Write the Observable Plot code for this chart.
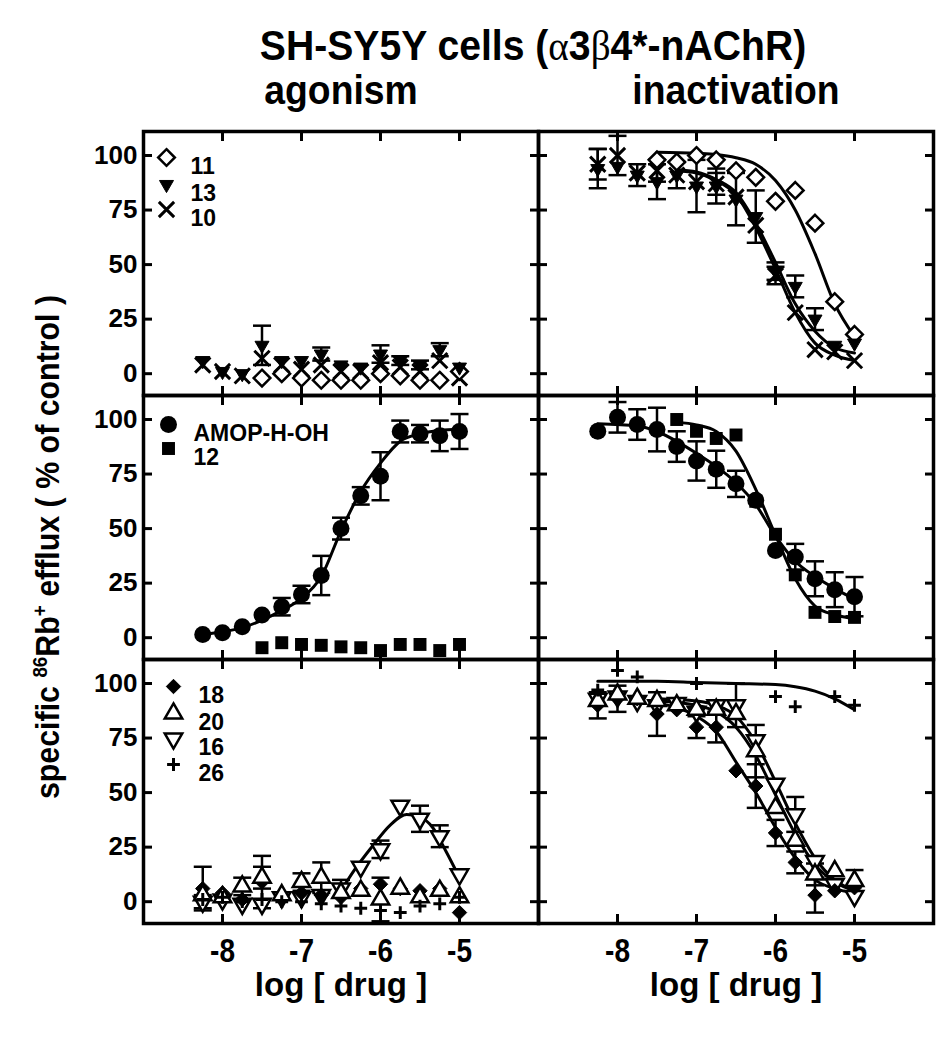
<!DOCTYPE html>
<html><head><meta charset="utf-8">
<script src="https://cdn.jsdelivr.net/npm/d3@7"></script>
<script src="https://cdn.jsdelivr.net/npm/@observablehq/plot@0.6"></script>
<style>
body{margin:0;background:#fff;}
#wrap{position:relative;width:946px;height:1050px;overflow:hidden;background:#fff;}
#title{position:relative;height:70px;}
#title .t{position:absolute;left:533px;top:28px;transform:translateX(-50%) scaleX(0.91);white-space:nowrap;font:bold 43px "Liberation Sans",Arial,sans-serif;line-height:34px;color:#000;}
#title .g{font-family:"Liberation Serif","DejaVu Serif",serif;font-weight:normal;}
#ylab{position:absolute;left:48px;top:547px;transform:translate(-50%,-50%) rotate(-90deg) scaleX(0.92);white-space:nowrap;font:bold 33px "Liberation Sans",Arial,sans-serif;color:#000;}
#ylab sup{font-size:0.62em;vertical-align:0.6em;line-height:0;}
</style>
</head><body>
<div id="wrap">
<div id="title"><span class="t">SH-SY5Y cells (<span class="g">α</span>3<span class="g">β</span>4*-nAChR)</span></div>
<div id="chart"></div>
<div id="ylab">specific <sup>86</sup>Rb<sup>+</sup> efflux ( % of control )</div>
</div>
<script>
// ---------- data ----------
const panels = ["agonism", "inactivation"];
const rows = ["r1", "r2", "r3"];
const yTicks = [0, 25, 50, 75, 100];
const xTicks = [-8, -7, -6, -5];
const doses = [-8.25, -8, -7.75, -7.5, -7.25, -7, -6.75, -6.5, -6.25, -6, -5.75, -5.5, -5.25, -5];

// row 1 : compounds 11, 13, 10
const agon11 = [null, null, null, -2, 0, -2, -3, -3, -3, 0, -1, -3, -3, 1];
const agon13 = [6, 1, 0, 13, 6, 6, 9, 4, 3, 9, 6, 4, 11, 3];
const agon13Err = [0, 0, 0, 9, 0, 0, 3, 0, 0, 4, 2, 2, 3, 0];
const agon10 = [4, 1, -1, 7, 4, 2, 4, 1, 1, 5, 3, 1, 6, -2];
const inac11 = [null, null, null, 98, 97, 100, 98, 93, 90, 79, 84, 69, 33, 18];
const inac13 = [94, 95, 91, 88, 91, 86, 86, 80, 72, 47, 40, 25, 13, 14];
const inac13Err = [9, 0, 5, 8, 6, 12, 8, 12, 12, 4, 5, 5, 0, 0];
const inac10 = [96, 100, 92, 93, 91, 88, 87, 81, 68, 45, 28, 11, 10, 6];
const inac10Err = [7, 9, 0, 5, 0, 0, 5, 0, 0, 4, 0, 0, 0, 0];
const fit11InacX = [-7.5, -7, -6.75, -6.5, -6.25, -6, -5.75, -5.5, -5.25, -5];
const fit11InacY = [101.5, 101, 100.5, 99, 96, 88.5, 75, 55, 32, 17];
const fit13InacX = [-7.25, -7, -6.75, -6.5, -6.25, -6, -5.75, -5.5, -5.25, -5];
const fit13InacY = [93.5, 92.5, 89, 83, 69, 51, 32, 19.5, 12, 9.5];
const fit10InacY = [93, 92, 88.5, 82, 67, 48, 28, 14, 8.5, 6];

// row 2 : AMOP-H-OH and 12
const agonAmop = [1.5, 2.3, 5, 10.4, 14.2, 19.8, 28.5, 50, 65, 74, 94.5, 93.5, 92.5, 94.5];
const agonAmopErr = [0, 0, 0, 0, 4, 4, 9, 5, 4, 11, 5, 4, 7, 8];
const dose12 = [-7.5, -7.25, -7, -6.75, -6.5, -6.25, -6, -5.75, -5.5, -5.25, -5];
const agon12 = [-4.6, -2.3, -3.1, -3.5, -4.2, -4.6, -5.9, -3.1, -3.1, -5.9, -3.1];
const fitAmopAgonY = [1.5, 2.7, 4.6, 8, 12.5, 18, 28, 49, 67, 80, 90, 93.5, 95, 95.5];
const inacAmop = [94.6, 101, 97.7, 95.4, 87.6, 81, 77.2, 70.5, 63, 40, 37, 27, 22, 18.8];
const inacAmopErr = [0, 7, 7, 10, 7, 9, 8.5, 6, 0, 0, 6, 8, 8, 9];
const dose12Inac = [-7.25, -7, -6.75, -6.5, -6.25, -6, -5.75, -5.5, -5.25, -5];
const inac12 = [100, 94.6, 91.3, 92.9, 62.5, 47.4, 28.8, 11.6, 9.7, 9.3];
const fitAmopInacX = [-8.25, -7.75, -7.5, -7.25, -7, -6.75, -6.5, -6.25, -6, -5.75, -5.5, -5.25, -5];
const fitAmopInacY = [98, 97, 94.5, 90, 84.5, 78.5, 71, 61, 46.5, 35, 28, 22.5, 17.7];
const fit12InacY = [98.8, 97.5, 94.5, 85.5, 68, 47, 27, 14.5, 10.5, 8.8];

// row 3 : compounds 18, 20, 16, 26
const agon18 = [6, 4, 1, 9, 2, 4, 3, 2, 6, 8, 6, 5, 6, -5];
const agon18Err = [10, 0, 0, 12, 0, 0, 0, 0, 0, 0, 0, 0, 0, 0];
const agon20 = [3, 2, 7, 11, 3, 9, 11, 4, 5, 1, 6, 2, 5, 2];
const agon20Err = [0, 0, 4, 5, 0, 4, 7, 0, 0, 10, 0, 0, 0, 0];
const agon16 = [0, 1, -1, -1, 2, 2, 3, 6, 16, 24, 44, 38, 30, 12.5];
const agon16Err = [3, 0, 0, 0, 0, 0, 0, 4, 0, 4, 0, 6, 5, 0];
const agon26 = [1, 2, 0, 1, 0, 0, -1, -2, -3, -4, -5, -2, -1, 2];
const fit16AgonX = [-6.5, -6.34, -6.09, -5.88, -5.67, -5.51, -5.34, -5.17, -5];
const fit16AgonY = [5, 14, 26, 35, 40, 39, 34, 23, 11];
const inac18 = [90, 93, 93, 86, 88, 80, 80, 60, 53, 31.5, 18, 3, 5, 6.4];
const inac18Err = [6, 6, 0, 10, 0, 5, 7, 0, 10, 6, 5, 8, 0, 0];
const inac20 = [92, 95, 93, 92, 90, 88, 88, 86, 69, 43, 28, 12.5, 14, 9.5];
const inac20Err = [0, 0, 0, 0, 0, 0, 0, 0, 12, 0, 0, 5, 0, 5];
const inac16 = [93, 94, 92, 90, 91, 87, 90, 90, 74, 54, 40, 18.6, 8, 2.6];
const inac16Err = [0, 0, 0, 0, 0, 0, 0, 10, 0, 0, 8, 0, 0, 0];
const dose26Inac = [-8.25, -8, -7.75, -7, -6, -5.75, -5.25, -5];
const inac26 = [97, 106, 103, 100, 94, 89.4, 94, 90];
const fit18InacX = [-7.5, -7.25, -7, -6.75, -6.5, -6.25, -6, -5.75, -5.5, -5.25, -5];
const fit18InacY = [91, 89, 85, 78, 64, 50, 34, 20, 10, 6, 4];
const fit2016InacX = [-7.5, -7, -6.75, -6.5, -6.25, -6, -5.75, -5.5, -5.25, -5];
const fit20InacY = [92, 90, 87, 80, 67, 49, 31, 17, 9, 5];
const fit16InacY = [93, 92, 90, 85, 73, 55, 36, 20, 10, 5];
const fit26InacX = [-8.25, -7.5, -7, -6.5, -6, -5.75, -5.5, -5.25, -5];
const fit26InacY = [101, 101, 100.5, 100, 99.5, 98.5, 96.5, 93, 88];

// legends
const legendR1 = ["11", "13", "10"];
const legendR2 = ["AMOP-H-OH", "12"];
const legendR3 = ["18", "20", "16", "26"];
const xLabel = "log [ drug ]";

// ---------- tables ----------
const series = [
  {panel: "agonism", row: "r1", name: "11", x: doses, y: agon11},
  {panel: "agonism", row: "r1", name: "13", x: doses, y: agon13, err: agon13Err},
  {panel: "agonism", row: "r1", name: "10", x: doses, y: agon10},
  {panel: "inactivation", row: "r1", name: "11", x: doses, y: inac11},
  {panel: "inactivation", row: "r1", name: "13", x: doses, y: inac13, err: inac13Err},
  {panel: "inactivation", row: "r1", name: "10", x: doses, y: inac10, err: inac10Err},
  {panel: "agonism", row: "r2", name: "AMOP-H-OH", x: doses, y: agonAmop, err: agonAmopErr},
  {panel: "agonism", row: "r2", name: "12", x: dose12, y: agon12},
  {panel: "inactivation", row: "r2", name: "AMOP-H-OH", x: doses, y: inacAmop, err: inacAmopErr},
  {panel: "inactivation", row: "r2", name: "12", x: dose12Inac, y: inac12},
  {panel: "agonism", row: "r3", name: "18", x: doses, y: agon18, err: agon18Err},
  {panel: "agonism", row: "r3", name: "20", x: doses, y: agon20, err: agon20Err},
  {panel: "agonism", row: "r3", name: "16", x: doses, y: agon16, err: agon16Err},
  {panel: "agonism", row: "r3", name: "26", x: doses, y: agon26},
  {panel: "inactivation", row: "r3", name: "18", x: doses, y: inac18, err: inac18Err},
  {panel: "inactivation", row: "r3", name: "20", x: doses, y: inac20, err: inac20Err},
  {panel: "inactivation", row: "r3", name: "16", x: doses, y: inac16, err: inac16Err},
  {panel: "inactivation", row: "r3", name: "26", x: dose26Inac, y: inac26}
];
const fits = [
  {panel: "inactivation", row: "r1", id: "11", x: fit11InacX, y: fit11InacY},
  {panel: "inactivation", row: "r1", id: "13", x: fit13InacX, y: fit13InacY},
  {panel: "inactivation", row: "r1", id: "10", x: fit13InacX, y: fit10InacY},
  {panel: "agonism", row: "r2", id: "amop", x: doses, y: fitAmopAgonY},
  {panel: "inactivation", row: "r2", id: "amop", x: fitAmopInacX, y: fitAmopInacY},
  {panel: "inactivation", row: "r2", id: "12", x: dose12Inac, y: fit12InacY},
  {panel: "agonism", row: "r3", id: "16", x: fit16AgonX, y: fit16AgonY},
  {panel: "inactivation", row: "r3", id: "18", x: fit18InacX, y: fit18InacY},
  {panel: "inactivation", row: "r3", id: "20", x: fit2016InacX, y: fit20InacY},
  {panel: "inactivation", row: "r3", id: "16", x: fit2016InacX, y: fit16InacY},
  {panel: "inactivation", row: "r3", id: "26", x: fit26InacX, y: fit26InacY}
];

const points = series.flatMap(s => s.x.map((x, i) => ({
  panel: s.panel, row: s.row, name: s.name, x, y: s.y[i], err: s.err ? s.err[i] : 0
})).filter(d => d.y != null));
const errs = points.filter(d => d.err > 0);
const fitPts = fits.flatMap(f => f.x.map((x, i) => ({panel: f.panel, row: f.row, id: f.panel + f.row + f.id, x, y: f.y[i]})));

// ---------- styles ----------
const sym = {
  "11": {symbol: "diamond2", fill: "white", stroke: "black", strokeWidth: 2.5, r: 7.5},
  "13": {symbol: "triangle", rotate: 180, fill: "black", stroke: "black", strokeWidth: 1, r: 5.2},
  "10": {symbol: "times", fill: "none", stroke: "black", strokeWidth: 3, r: 7},
  "AMOP-H-OH": {symbol: "circle", fill: "black", stroke: "none", r: 8.5},
  "12": {symbol: "square", fill: "black", stroke: "none", r: 7.3},
  "18": {symbol: "diamond2", fill: "black", stroke: "black", strokeWidth: 1, r: 6.5},
  "20": {symbol: "triangle", fill: "white", stroke: "black", strokeWidth: 2.5, r: 6.5},
  "16": {symbol: "triangle", rotate: 180, fill: "white", stroke: "black", strokeWidth: 2.5, r: 6.5},
  "26": {symbol: "plus", fill: "none", stroke: "black", strokeWidth: 3, r: 4.2}
};
const capSymbol = {draw(ctx, size) { const h = Math.sqrt(size / Math.PI); ctx.moveTo(-h, 0); ctx.lineTo(h, 0); }};
const sans = "Liberation Sans, Arial, sans-serif";

const legendLayout = [
  {row: "r1", items: legendR1, dx: 23, dys: [26, 53, 78], tdx: 47},
  {row: "r2", items: legendR2, dx: 25, dys: [29, 53], tdx: 50},
  {row: "r3", items: legendR3, dx: 30, dys: [27, 54, 79, 105], tdx: 55}
];
const legendMarks = legendLayout.flatMap(L => L.items.flatMap((name, i) => {
  const d = [{panel: "agonism", row: L.row, name}];
  return [
    Plot.dot(d, {x: null, y: null, fx: "panel", fy: "row", frameAnchor: "top-left", dx: L.dx, dy: L.dys[i], ...sym[name]}),
    Plot.text(d, {x: null, y: null, fx: "panel", fy: "row", frameAnchor: "top-left", dx: L.tdx, dy: L.dys[i], text: "name",
      textAnchor: "start", fontSize: 23, fontWeight: "bold", fontFamily: sans, fill: "black"})
  ];
}));

const tickOpt = {stroke: "black", strokeWidth: 3, fill: "none", label: null, facetAnchor: null};
const names = Object.keys(sym);

const chart = Plot.plot({
  width: 946, height: 980,
  marginLeft: 142, marginRight: 13, marginTop: 60, marginBottom: 127,
  x: {domain: [-9, -4], axis: null},
  y: {domain: [-10, 111], axis: null},
  fx: {domain: panels, padding: 0, axis: null},
  fy: {domain: rows, padding: 0, axis: null},
  style: {fontFamily: sans, color: "black", background: "white", overflow: "visible"},
  marks: [
    Plot.axisY({ticks: yTicks, anchor: "left", tickSize: 9, dx: 9, ...tickOpt}),
    Plot.axisY({ticks: yTicks, anchor: "right", tickSize: 9, dx: -9, ...tickOpt}),
    Plot.axisX({ticks: xTicks, anchor: "top", tickSize: 9, dy: 9, ...tickOpt}),
    Plot.axisX({ticks: xTicks, anchor: "bottom", tickSize: 9, dy: -9, ...tickOpt}),
    Plot.axisY({ticks: yTicks, anchor: "left", tickSize: 0, tickPadding: 6, label: null, tickFormat: d => `${d}`,
      fontSize: 26, fontWeight: "bold", fontFamily: sans, fill: "black"}),
    Plot.axisX({ticks: xTicks, anchor: "bottom", tickSize: 0, tickPadding: 15, label: null, tickFormat: d => `${d}`,
      fontSize: 33, fontWeight: "bold", fontFamily: sans, fill: "black"}),
    Plot.axisFx({anchor: "top", tickSize: 0, tickPadding: 28, label: null,
      fontSize: 41, fontWeight: "bold", fontFamily: sans, fill: "black"}),
    Plot.text(panels.map(p => ({panel: p, row: "r3", label: xLabel})), {x: null, y: null, fx: "panel", fy: "row",
      text: "label", frameAnchor: "bottom", dy: 72, fontSize: 33, fontWeight: "bold", fontFamily: sans, fill: "black",
      ariaLabel: "x-title"}),
    Plot.line(fitPts, {x: "x", y: "y", z: "id", fx: "panel", fy: "row", curve: "monotone-x", stroke: "black", strokeWidth: 3}),
    Plot.ruleX(errs, {x: "x", y1: d => d.y - d.err, y2: d => d.y + d.err, fx: "panel", fy: "row", stroke: "black", strokeWidth: 2.5}),
    Plot.dot(errs, {x: "x", y: d => d.y + d.err, fx: "panel", fy: "row", symbol: capSymbol, r: 9, fill: "none", stroke: "black", strokeWidth: 2.5}),
    Plot.dot(errs, {x: "x", y: d => d.y - d.err, fx: "panel", fy: "row", symbol: capSymbol, r: 9, fill: "none", stroke: "black", strokeWidth: 2.5}),
    ...names.map(n => Plot.dot(points.filter(d => d.name === n), {x: "x", y: "y", fx: "panel", fy: "row", ...sym[n]})),
    ...legendMarks,
    Plot.frame({stroke: "black", strokeWidth: 3.5})
  ]
});
document.getElementById("chart").appendChild(chart);

// condense the narrow-looking labels (the reference uses a condensed bold face)
function condense(selector, factor) {
  chart.querySelectorAll(selector).forEach(t => {
    const L = t.getComputedTextLength();
    if (L > 0) {
      t.setAttribute("textLength", (L * factor).toFixed(1));
      t.setAttribute("lengthAdjust", "spacingAndGlyphs");
    }
  });
}
condense('g[aria-label="x-axis tick label"] text', 0.85);
condense('g[aria-label="fx-axis tick label"] text', 0.91);
condense('g[aria-label="x-title"] text', 0.81);
</script>
</body></html>
